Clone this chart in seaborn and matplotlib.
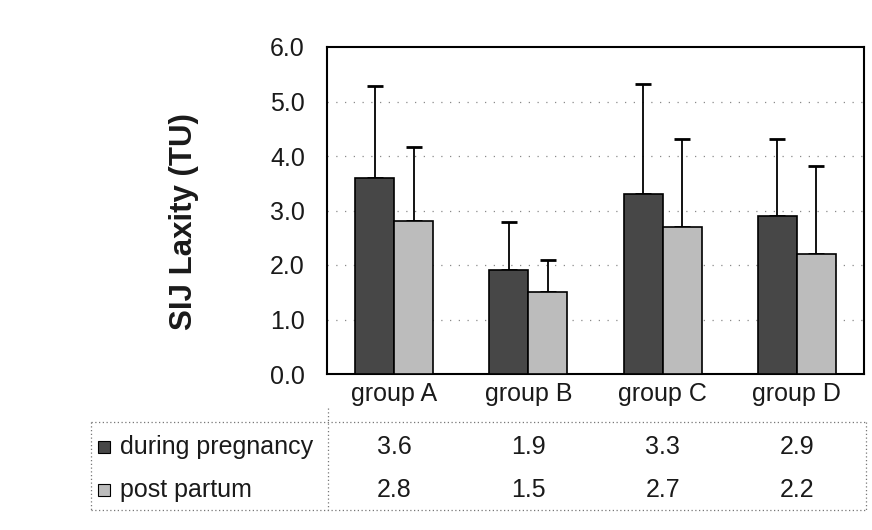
import matplotlib
matplotlib.use("Agg")
import matplotlib.pyplot as plt
from matplotlib.lines import Line2D
from matplotlib.patches import Rectangle
import seaborn as sns
import pandas as pd
import numpy as np

# ---- data ----
groups = ["group A", "group B", "group C", "group D"]
series = ["during pregnancy", "post partum"]
during_pregnancy = [3.6, 1.9, 3.3, 2.9]
post_partum = [2.8, 1.5, 2.7, 2.2]
sd_during = [1.68, 0.89, 2.02, 1.41]
sd_post = [1.37, 0.59, 1.61, 1.62]
y_ticks = [0.0, 1.0, 2.0, 3.0, 4.0, 5.0, 6.0]
y_label = "SIJ Laxity (TU)"

sns.set_theme(style="white")
plt.rcParams["font.family"] = ["Liberation Sans", "DejaVu Sans"]

W, H = 872, 530
fig = plt.figure(figsize=(W / 100, H / 100), dpi=100)
ax = fig.add_axes([327 / W, 1 - 374 / H, (864 - 327) / W, (374 - 47) / H])

df = pd.DataFrame({
    "group": groups * 2,
    "series": [series[0]] * 4 + [series[1]] * 4,
    "value": during_pregnancy + post_partum,
})
colors = ["#474747", "#bcbcbc"]
sns.barplot(data=df, x="group", y="value", hue="series", order=groups,
            hue_order=series, palette=colors, width=0.58, gap=0,
            edgecolor="black", linewidth=1.2, saturation=1, legend=False,
            errorbar=None, ax=ax, zorder=3)

# error bars (upward only)
for cont, sds in zip(ax.containers, [sd_during, sd_post]):
    xs = [p.get_x() + p.get_width() / 2 for p in cont.patches]
    ys = [p.get_height() for p in cont.patches]
    ax.errorbar(xs, ys, yerr=[np.zeros(len(sds)), sds], fmt="none",
                ecolor="black", elinewidth=1.3, capsize=6, capthick=2, zorder=2)

ax.set_ylim(0, 6)
ax.set_yticks(y_ticks)
ax.set_yticklabels([f"{t:.1f}" for t in y_ticks])
ax.set_xlim(-0.5, 3.5)
ax.set_xlabel("")
ax.set_ylabel("")
ax.tick_params(axis="y", length=0, pad=16, labelsize=18, colors="#1a1a1a")
ax.tick_params(axis="x", length=0, pad=6, labelsize=18, colors="#1a1a1a")
for s in ax.spines.values():
    s.set_visible(True)
    s.set_color("black")
    s.set_linewidth(1.5)
for y in y_ticks[1:-1]:
    ax.axhline(y, color="#8a8a8a", linestyle=(0, (1, 6)), linewidth=0.9, zorder=1)


def fx(px):
    return px / W


def fy(py):
    return 1 - py / H


fig.text(fx(184), fy(222), y_label, rotation=90, ha="center", va="center",
         fontsize=22.5, fontweight="bold", color="#1a1a1a")

# ---- data table below the chart ----
line_kw = dict(color="#777777", linestyle=(0, (1, 2)), linewidth=0.9)
fig.add_artist(Line2D([fx(91), fx(866)], [fy(422), fy(422)], **line_kw))
fig.add_artist(Line2D([fx(91), fx(866)], [fy(510), fy(510)], **line_kw))
fig.add_artist(Line2D([fx(91), fx(91)], [fy(422), fy(510)], **line_kw))
fig.add_artist(Line2D([fx(866), fx(866)], [fy(422), fy(510)], **line_kw))
fig.add_artist(Line2D([fx(328), fx(328)], [fy(408), fy(510)], **line_kw))

row_y = [447, 490]
trans = matplotlib.transforms.blended_transform_factory(ax.transData, fig.transFigure)
for vals, ry, name, col in zip([during_pregnancy, post_partum], row_y, series, colors):
    fig.add_artist(Rectangle((fx(98), fy(ry + 6)), fx(12), 12 / H,
                             facecolor=col, edgecolor="black", linewidth=0.8))
    fig.text(fx(120), fy(ry), name, fontsize=18, va="center", ha="left", color="#1a1a1a")
    for i, v in enumerate(vals):
        ax.text(i, fy(ry), f"{v:.1f}", transform=trans, fontsize=18,
                va="center", ha="center", color="#1a1a1a", clip_on=False)

fig.savefig("out.png", dpi=100)
